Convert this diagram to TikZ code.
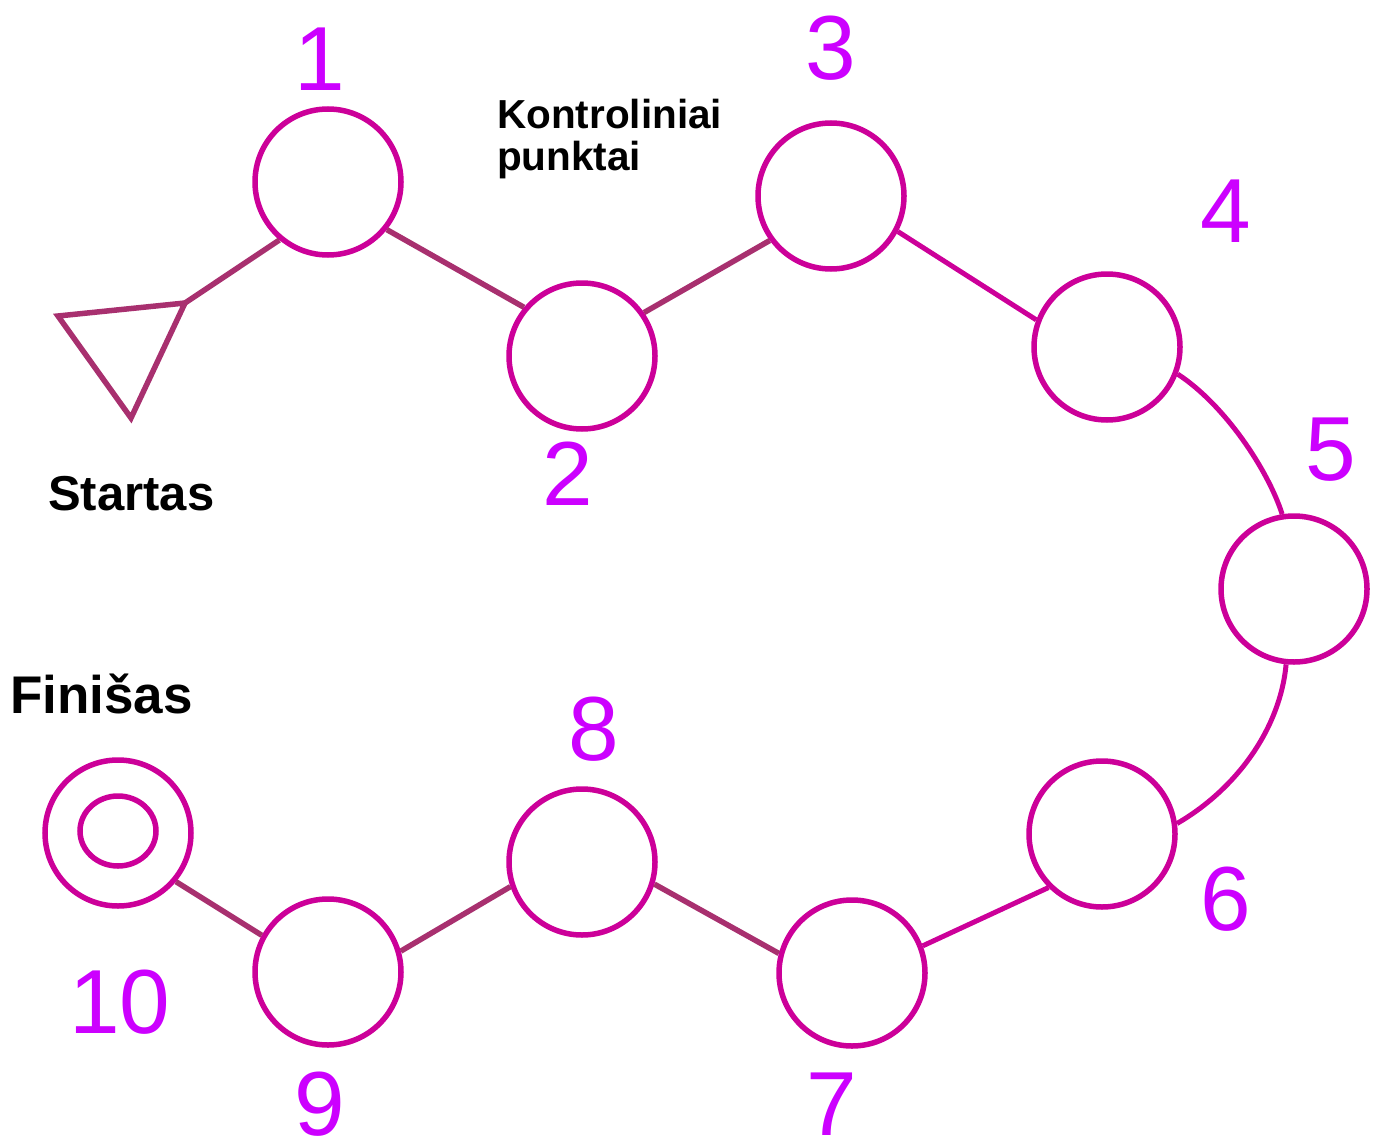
\documentclass[tikz,border=0pt]{standalone}
\usepackage{fontspec}
\usetikzlibrary{shapes.geometric}
\setmainfont{Liberation Sans}
\definecolor{ring}{HTML}{CC0099}
\definecolor{darkline}{HTML}{A8306F}
\definecolor{numcol}{HTML}{CC00FF}
\tikzset{
  cp/.style={circle, draw=ring, line width=5.5pt, minimum size=146pt, inner sep=0pt},
  num/.style={text=numcol, anchor=base, inner sep=0pt, font=\fontsize{91}{91}\selectfont},
  darkc/.style={draw=darkline, line width=5.5pt},
  brightc/.style={draw=ring, line width=5pt},
  lbl/.style={inner sep=0pt, font=\bfseries}
}
\begin{document}
\begin{tikzpicture}[x=1pt,y=-1pt]
\useasboundingbox (0,0) rectangle (1378,1145);
% checkpoints
\node[cp] (n1) at (328,182) {};
\node[cp] (n2) at (582,356) {};
\node[cp] (n3) at (831,196) {};
\node[cp] (n4) at (1107,347) {};
\node[cp] (n5) at (1294,589) {};
\node[cp] (n6) at (1102,834) {};
\node[cp] (n7) at (852,973) {};
\node[cp] (n8) at (582,862) {};
\node[cp] (n9) at (328,972) {};
\node[cp] (n10) at (118,833) {};
\node[ellipse, draw=ring, line width=5.5pt, minimum width=76pt, minimum height=70pt, inner sep=0pt] (n10i) at (118,831) {};
% start triangle
\coordinate (tv) at (185,303);
\draw[darkline, line width=5.5pt, line join=miter] (58,316) -- (tv) -- (131,418) -- cycle;
% connectors
\draw[darkc] (tv) -- (n1.230);
\draw[darkc] (n1.-39) -- (n2.140);
\draw[darkc] (n2.35) -- (n3.216);
\draw[brightc] (n3.-28) -- (n4.159);
\draw[brightc] (n4.-21) .. controls (1225,405) and (1268,470) .. (n5.99);
\draw[brightc] (n5.-96) .. controls (1280,730) and (1235,790) .. (n6.8);
\draw[brightc] (n6.225) -- (n7.21);
\draw[darkc] (n7.165) -- (n8.-17);
\draw[darkc] (n8.199) -- (n9.16);
\draw[darkc] (n9.151) -- (n10.-40);
% numbers
\node[num] (l1) at (320,91) {1};
\node[num] (l2) at (568,505) {2};
\node[num] (l3) at (831,80) {3};
\node[num] (l4) at (1226,242) {4};
\node[num] (l5) at (1331,480) {5};
\node[num] (l6) at (1226,930) {6};
\node[num] (l7) at (832,1135) {7};
\node[num] (l8) at (594,760) {8};
\node[num] (l9) at (320,1135) {9};
\node[num] (l10) at (120,1033) {10};
% labels
\node[lbl, anchor=north west, align=left, font=\bfseries\fontsize{40.5}{42}\selectfont] (kp) at (497,99) {Kontroliniai\\punktai};
\node[lbl, anchor=base west, font=\bfseries\fontsize{49}{49}\selectfont] (st) at (48,510) {Startas};
\node[lbl, anchor=base west, font=\bfseries\fontsize{53}{53}\selectfont] (fi) at (10,713) {Finišas};
\end{tikzpicture}
\end{document}
